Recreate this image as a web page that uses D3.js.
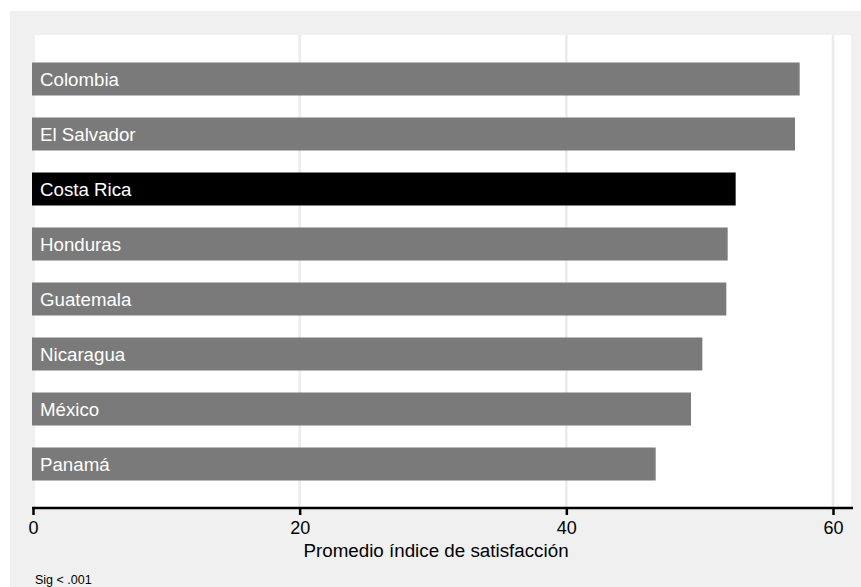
<!DOCTYPE html>
<html>
<head>
<meta charset="utf-8">
<script src="https://cdn.jsdelivr.net/npm/d3@7"></script>
<style>
  body { margin: 0; background: #ffffff; }
  svg { display: block; font-family: "Liberation Sans", Arial, Helvetica, sans-serif; }
</style>
</head>
<body>
<svg id="chart" width="861" height="587"></svg>
<script>
const countries = ["Colombia", "El Salvador", "Costa Rica", "Honduras", "Guatemala", "Nicaragua", "México", "Panamá"];
const values = [57.5, 57.15, 52.7, 52.1, 52.0, 50.2, 49.35, 46.7];
const highlight = ["Costa Rica"];
const tickValues = [0, 20, 40, 60];
const xTitle = "Promedio índice de satisfacción";
const note = "Sig < .001";

const data = countries.map((c, i) => ({ country: c, value: values[i] }));

const svg = d3.select("#chart");

// outer gray panel
svg.append("rect").attr("x", 10).attr("y", 11).attr("width", 851).attr("height", 576).attr("fill", "#f0f0f0");

const plot = { left: 35, right: 851, top: 35, bottom: 508 };

// white plot area
svg.append("rect").attr("x", plot.left).attr("y", plot.top)
  .attr("width", plot.right - plot.left).attr("height", plot.bottom - plot.top)
  .attr("fill", "#ffffff");

const x = d3.scaleLinear().domain([0, 60]).range([33, 833]);
const y = d3.scaleBand().domain(countries).range([plot.top, plot.bottom]).paddingInner(0.4).paddingOuter(0.5);

// gridlines
svg.append("g").selectAll("line").data(tickValues.filter(t => t > 0)).join("line")
  .attr("x1", d => x(d)).attr("x2", d => x(d))
  .attr("y1", plot.top).attr("y2", plot.bottom)
  .attr("stroke", "#ebebeb").attr("stroke-width", 2.5);

// bars
svg.append("g").selectAll("rect").data(data).join("rect")
  .attr("x", x(0) - 1)
  .attr("y", d => y(d.country))
  .attr("width", d => x(d.value) - x(0) + 1)
  .attr("height", y.bandwidth())
  .attr("fill", d => highlight.includes(d.country) ? "#000000" : "#7a7a7a");

// bar labels
svg.append("g").selectAll("text").data(data).join("text")
  .attr("x", 40)
  .attr("y", d => y(d.country) + y.bandwidth() / 2)
  .attr("dy", "0.36em")
  .attr("fill", "#ffffff")
  .attr("font-size", 18.7)
  .text(d => d.country);

// x axis
const axis = d3.axisBottom(x).tickValues(tickValues).tickSize(7).tickPadding(6).tickFormat(d3.format("d"));
const gAxis = svg.append("g").attr("transform", `translate(0,${plot.bottom})`).call(axis);
gAxis.select(".domain").remove();
gAxis.append("line").attr("x1", x(0) - 1).attr("x2", 853).attr("y1", 0).attr("y2", 0)
  .attr("stroke", "#000").attr("stroke-width", 2.5);
gAxis.selectAll(".tick line").attr("stroke", "#000").attr("stroke-width", 2.5);
gAxis.selectAll(".tick text").attr("fill", "#000").attr("font-size", 18)
  .attr("font-family", "'Liberation Sans', Arial, Helvetica, sans-serif");

// axis title
svg.append("text").attr("x", 436).attr("y", 557).attr("text-anchor", "middle")
  .attr("font-size", 18.8).attr("fill", "#000").text(xTitle);

// note
svg.append("text").attr("x", 35).attr("y", 584)
  .attr("font-size", 12.5).attr("fill", "#000").text(note);
</script>
</body>
</html>
